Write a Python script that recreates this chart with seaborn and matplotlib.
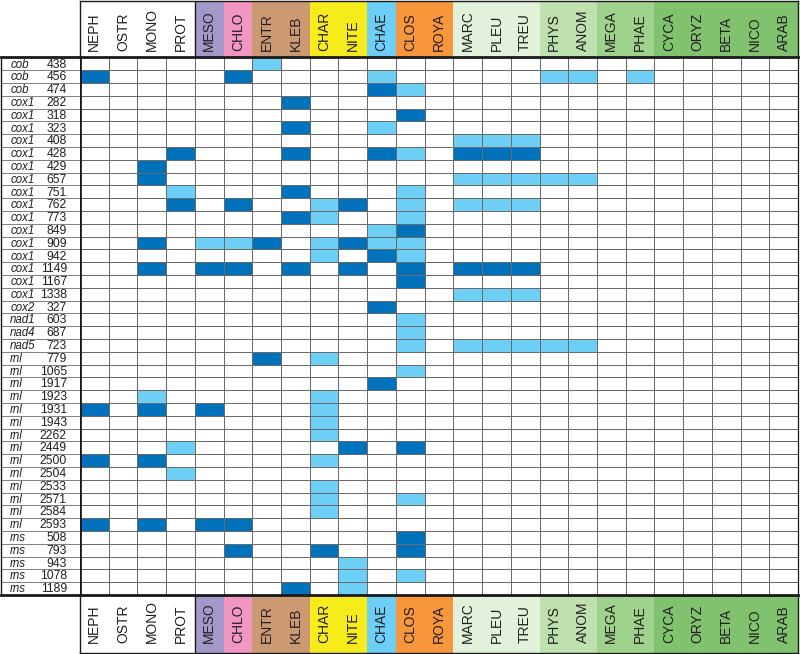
import matplotlib.pyplot as plt
import seaborn as sns
import numpy as np
import pandas as pd
from matplotlib.colors import ListedColormap

# taxa (columns) and the colour group each belongs to
taxa = ["NEPH", "OSTR", "MONO", "PROT", "MESO", "CHLO", "ENTR", "KLEB", "CHAR", "NITE",
        "CHAE", "CLOS", "ROYA", "MARC", "PLEU", "TREU", "PHYS", "ANOM", "MEGA", "PHAE",
        "CYCA", "ORYZ", "BETA", "NICO", "ARAB"]
taxon_group = [0, 0, 0, 0, 1, 2, 3, 3, 4, 4, 5, 6, 6, 7, 7, 7, 8, 8, 9, 9, 10, 10, 10, 10, 10]
group_colors = ["#ffffff", "#a497c9", "#f297c4", "#cc9a72", "#f7ec1b", "#6dcff6",
                "#f7963a", "#e2f1da", "#bfe1b0", "#9fd28d", "#80c26e"]

# editing sites (rows)
genes = ["cob"] * 3 + ["cox1"] * 16 + ["cox2", "nad1", "nad4", "nad5"] + ["rnl"] * 14 + ["rns"] * 5
sites = [438, 456, 474,
         282, 318, 323, 408, 428, 429, 657, 751, 762, 773, 849, 909, 942, 1149, 1167, 1338,
         327, 603, 687, 723,
         779, 1065, 1917, 1923, 1931, 1943, 2262, 2449, 2500, 2504, 2533, 2571, 2584, 2593,
         508, 793, 943, 1078, 1189]

# 0 = none, 1 = light blue, 2 = dark blue (spaces separate the colour groups)
calls = [
    "0000 0 0 10 00 0 00 000 00 00 00000",
    "2000 0 2 00 00 1 00 000 11 01 00000",
    "0000 0 0 00 00 2 10 000 00 00 00000",
    "0000 0 0 02 00 0 00 000 00 00 00000",
    "0000 0 0 00 00 0 20 000 00 00 00000",
    "0000 0 0 02 00 1 00 000 00 00 00000",
    "0000 0 0 00 00 0 00 111 00 00 00000",
    "0002 0 0 02 00 2 10 222 00 00 00000",
    "0020 0 0 00 00 0 00 000 00 00 00000",
    "0020 0 0 00 00 0 00 111 11 00 00000",
    "0001 0 0 02 00 0 10 000 00 00 00000",
    "0002 0 2 00 12 0 10 111 00 00 00000",
    "0000 0 0 02 10 0 10 000 00 00 00000",
    "0000 0 0 00 00 1 20 000 00 00 00000",
    "0020 1 1 20 12 1 10 000 00 00 00000",
    "0000 0 0 00 10 2 10 000 00 00 00000",
    "0020 2 2 02 02 0 20 222 00 00 00000",
    "0000 0 0 00 00 0 20 000 00 00 00000",
    "0000 0 0 00 00 0 00 111 00 00 00000",
    "0000 0 0 00 00 2 00 000 00 00 00000",
    "0000 0 0 00 00 0 10 000 00 00 00000",
    "0000 0 0 00 00 0 10 000 00 00 00000",
    "0000 0 0 00 00 0 10 111 11 00 00000",
    "0000 0 0 20 10 0 00 000 00 00 00000",
    "0000 0 0 00 00 0 10 000 00 00 00000",
    "0000 0 0 00 00 2 00 000 00 00 00000",
    "0010 0 0 00 10 0 00 000 00 00 00000",
    "2020 2 0 00 10 0 00 000 00 00 00000",
    "0000 0 0 00 10 0 00 000 00 00 00000",
    "0000 0 0 00 10 0 00 000 00 00 00000",
    "0001 0 0 00 02 0 20 000 00 00 00000",
    "2020 0 0 00 10 0 00 000 00 00 00000",
    "0001 0 0 00 00 0 00 000 00 00 00000",
    "0000 0 0 00 10 0 00 000 00 00 00000",
    "0000 0 0 00 10 0 10 000 00 00 00000",
    "0000 0 0 00 10 0 00 000 00 00 00000",
    "2020 2 2 00 00 0 00 000 00 00 00000",
    "0000 0 0 00 00 0 20 000 00 00 00000",
    "0000 0 2 00 20 0 20 000 00 00 00000",
    "0000 0 0 00 01 0 00 000 00 00 00000",
    "0000 0 0 00 01 0 10 000 00 00 00000",
    "0000 0 0 02 01 0 00 000 00 00 00000",
]

light_blue = "#6dcff6"
dark_blue = "#0072bc"
grid_color = "#6a6a6a"
text_color = "#231f20"

matrix = pd.DataFrame([[int(c) for c in row.replace(" ", "")] for row in calls],
                      columns=taxa, index=[f"{g} {s}" for g, s in zip(genes, sites)])

plt.rcParams["font.family"] = ["Liberation Sans", "DejaVu Sans"]

W, H = 800, 654
fig = plt.figure(figsize=(W / 100, H / 100), dpi=100)


def box(x0, y0, x1, y1):
    return [x0 / W, 1 - y1 / H, (x1 - x0) / W, (y1 - y0) / H]


# main grid
ax = fig.add_axes(box(80, 57.5, 798, 595))
sns.heatmap(matrix, ax=ax, cmap=ListedColormap(["white", light_blue, dark_blue]),
            vmin=0, vmax=2, cbar=False, linewidths=0.6, linecolor=grid_color,
            xticklabels=False, yticklabels=False)
for side, lw in [("top", 2.0), ("bottom", 2.0), ("left", 2.0), ("right", 0.9)]:
    ax.spines[side].set_visible(True)
    ax.spines[side].set_linewidth(lw)
    ax.spines[side].set_color("#1a1a1a")

# row labels
lab = fig.add_axes(box(0.6, 57.5, 80, 595))
lab.set_xlim(0, 1)
lab.set_ylim(len(matrix), 0)
lab.hlines(np.arange(1, len(matrix)), 0, 1, color=grid_color, lw=0.6)
for i, (g, s) in enumerate(zip(genes, sites)):
    lab.text(0.12, i + 0.55, g, style="italic", ha="left", va="center",
             fontsize=8.3, color=text_color)
    lab.text(0.835, i + 0.55, str(s), ha="right", va="center", fontsize=8.7, color=text_color)
lab.set_xticks([])
lab.set_yticks([])
for side, lw in [("top", 2.0), ("bottom", 2.0), ("left", 1.0), ("right", 0)]:
    lab.spines[side].set_linewidth(lw)
    lab.spines[side].set_color("#1a1a1a")

# column headers, top and bottom
header = pd.DataFrame([taxon_group], columns=taxa)
for y0, y1, ty in [(1, 57.5, 0.88), (595, 653, 0.83)]:
    hx = fig.add_axes(box(80, y0, 798, y1), zorder=-1)
    sns.heatmap(header, ax=hx, cmap=ListedColormap(group_colors), vmin=-0.5,
                vmax=len(group_colors) - 0.5, cbar=False,
                xticklabels=False, yticklabels=False)
    for i, name in enumerate(taxa):
        hx.text(i + 0.5, ty, name, rotation=90, ha="center", va="bottom",
                fontsize=10, color=text_color)
    hx.axvline(taxon_group.count(0), color="#1a1a1a", lw=1.0)
    for side in hx.spines.values():
        side.set_visible(True)
        side.set_linewidth(1.0)
        side.set_color("#1a1a1a")

fig.savefig("out.png", dpi=100)
